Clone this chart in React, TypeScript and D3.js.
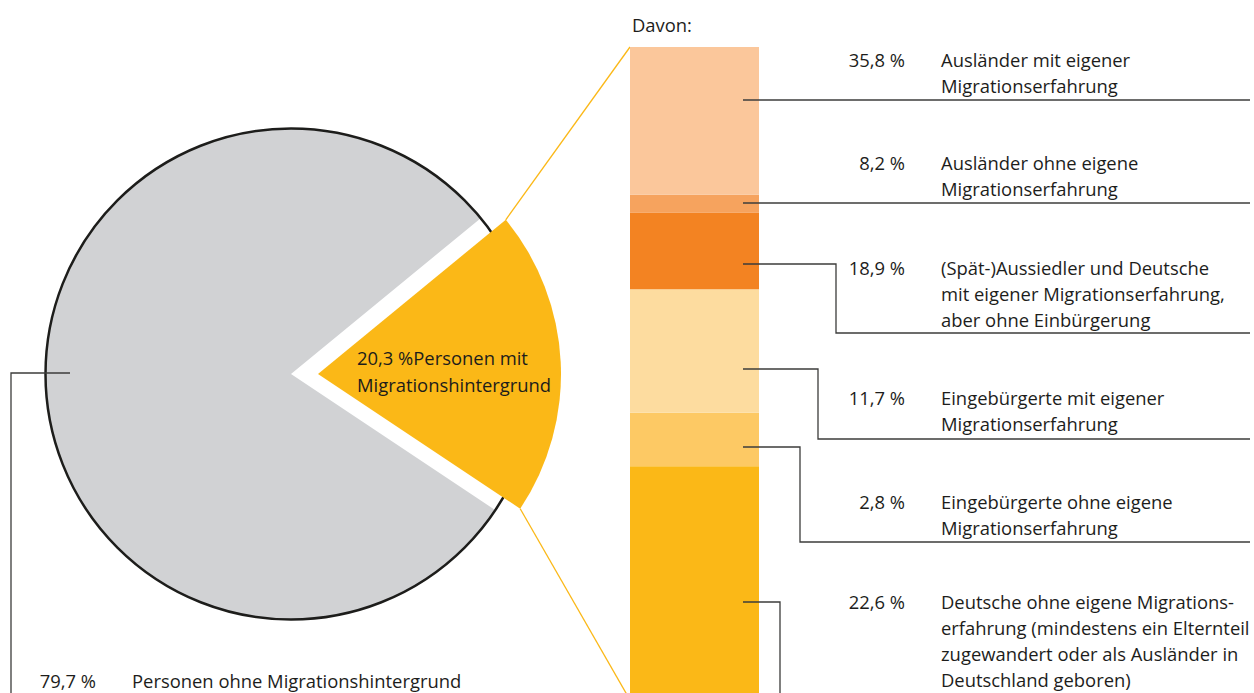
import * as d3 from "d3";

// shares of the whole population (pie)
const pieLabels = ["Personen mit Migrationshintergrund", "Personen ohne Migrationshintergrund"];
const pieValues = [20.3, 79.7];
const pieColors = ["#fbb817", "#d1d2d4"];

// breakdown of the 20,3 % (bar + labels, listed top to bottom)
const subValues = [35.8, 8.2, 18.9, 11.7, 2.8, 22.6];
const subLabels = [
  ["Ausländer mit eigener", "Migrationserfahrung"],
  ["Ausländer ohne eigene", "Migrationserfahrung"],
  ["(Spät-)Aussiedler und Deutsche", "mit eigener Migrationserfahrung,", "aber ohne Einbürgerung"],
  ["Eingebürgerte mit eigener", "Migrationserfahrung"],
  ["Eingebürgerte ohne eigene", "Migrationserfahrung"],
  ["Deutsche ohne eigene Migrations-", "erfahrung (mindestens ein Elternteil", "zugewandert oder als Ausländer in", "Deutschland geboren)"],
];
// bar segment colours, stacked from the bottom in the order of subValues
const segColors = ["#fbb817", "#fdc964", "#fddc9f", "#f38322", "#f6a35e", "#fbc79b"];

const fmt = (v: number) => `${v.toFixed(1).replace(".", ",")} %`;

// label layout (pixels)
const labelTop = [60, 163, 268, 398, 502, 602];
const leaderY = [100, 203, 264, 369, 447, 602];
const elbowX = [0, 0, 836, 818, 800, 780];
const underY = [100, 203, 333, 439, 542, 720];

const W = 1254;
const H = 693;
const font = "'Open Sans', 'Noto Sans', sans-serif";
const fs = 18.4;
const ink = "#1d1d1b";
const lineCol = "#3c3c3b";

export default function App() {
  // pie
  const cx = 291;
  const cy = 374;
  const r = 245.5;
  const explode = 27;
  const a0 = (50.6 * Math.PI) / 180;
  const pie = d3.pie<number>().sort(null).startAngle(a0).endAngle(a0 + 2 * Math.PI);
  const arcs = pie(pieValues);
  const arcGray = d3.arc<d3.PieArcDatum<number>>().innerRadius(0).outerRadius(r);
  const arcOrange = d3.arc<d3.PieArcDatum<number>>().innerRadius(0).outerRadius(243);
  const oa = arcs[0];
  const ocx = cx + explode;
  const corner = (a: number) => [ocx + 243 * Math.sin(a), cy - 243 * Math.cos(a)];
  const cTop = corner(oa.startAngle);
  const cBot = corner(oa.endAngle);

  // bar
  const barX = 630;
  const barW = 129;
  const y = d3.scaleLinear().domain([0, d3.sum(subValues)]).range([700, 47]);
  const cum = d3.cumsum(subValues);
  const segs = subValues.map((v, i) => ({ v, y0: cum[i] - v, y1: cum[i], color: segColors[i] }));

  const pctX = 905;
  const txtX = 941;
  const lh = 26.3;
  const startX = 743;
  const endX = 1250;
  const base = 6.5;

  return (
    <svg width={W} height={H} style={{ position: "absolute", left: 0, top: 0 }} fontFamily={font}>
      <rect width={W} height={H} fill="#fff" />

      {/* pie */}
      <path d={arcGray(arcs[1])!} transform={`translate(${cx},${cy})`} fill={pieColors[1]} />
      <circle cx={cx} cy={cy} r={r} fill="none" stroke={ink} strokeWidth={2.5} />
      <path d={arcOrange(oa)!} transform={`translate(${ocx},${cy})`} fill={pieColors[0]} />

      {/* zoom lines */}
      <line x1={cTop[0]} y1={cTop[1]} x2={barX} y2={y(d3.sum(subValues))} stroke="#fbb817" strokeWidth={1.3} />
      <line x1={cBot[0]} y1={cBot[1]} x2={barX} y2={y(0)} stroke="#fbb817" strokeWidth={1.3} />

      <text x={357} y={358 + base} fontSize={fs} fill={ink}>
        {fmt(pieValues[0])}Personen mit
      </text>
      <text x={357} y={385 + base} fontSize={fs} fill={ink}>
        Migrationshintergrund
      </text>

      {/* left leader */}
      <polyline points={`70,373 11,373 11,${H + 5}`} fill="none" stroke={lineCol} strokeWidth={1.3} />
      <text x={96} y={681 + base} fontSize={fs} fill={ink} textAnchor="end">
        {fmt(pieValues[1])}
      </text>
      <text x={132} y={681 + base} fontSize={fs} fill={ink}>
        {pieLabels[1]}
      </text>

      {/* bar */}
      <text x={632} y={25 + base} fontSize={fs} fill={ink}>
        Davon:
      </text>
      {segs.map((s, i) => (
        <rect key={i} x={barX} width={barW} y={y(s.y1)} height={y(s.y0) - y(s.y1)} fill={s.color} />
      ))}

      {/* labels */}
      {subValues.map((v, i) => {
        const pts =
          elbowX[i] === 0
            ? `${startX},${leaderY[i]} ${endX},${leaderY[i]}`
            : `${startX},${leaderY[i]} ${elbowX[i]},${leaderY[i]} ${elbowX[i]},${underY[i]} ${endX},${underY[i]}`;
        return (
          <g key={i}>
            <polyline points={pts} fill="none" stroke={lineCol} strokeWidth={1.3} />
            <text x={pctX} y={labelTop[i] + base} fontSize={fs} fill={ink} textAnchor="end">
              {fmt(v)}
            </text>
            {subLabels[i].map((t, j) => (
              <text key={j} x={txtX} y={labelTop[i] + base + j * lh} fontSize={fs} fill={ink}>
                {t}
              </text>
            ))}
          </g>
        );
      })}
    </svg>
  );
}
